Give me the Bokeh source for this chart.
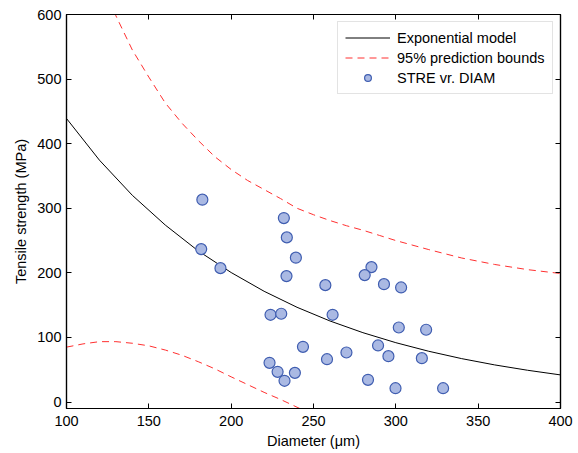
from bokeh.plotting import figure
from bokeh.models import LinearAxis, FixedTicker, CustomJSTickFormatter, Range1d
from bokeh.embed import file_html
from bokeh.resources import INLINE

# ---- data ----
diam = [182.5, 232.0, 233.8, 181.8, 239.3, 193.5, 233.6, 257.2, 223.9, 230.4,
        261.6, 243.6, 258.2, 223.3, 228.2, 238.7, 232.4, 285.2, 281.1, 292.8,
        303.2, 301.8, 318.4, 289.2, 270.0, 295.5, 315.8, 283.1, 299.8, 328.7]
stre = [313.3, 284.8, 254.9, 236.8, 223.5, 207.3, 195.0, 181.0, 135.1, 136.7,
        135.1, 85.5, 66.3, 60.7, 46.8, 45.2, 32.9, 208.9, 196.5, 182.5,
        177.4, 115.4, 111.9, 87.6, 76.7, 71.0, 67.9, 34.4, 21.4, 21.4]

model_x = [100, 120, 140, 160, 180, 200, 220, 240, 260, 280, 300, 320, 340, 360, 380, 400]
model_y = [439, 374.5, 320, 274, 234, 200.5, 171.5, 146.7, 125.5, 107.4, 91.9, 78.6, 67.2, 57.5, 49.2, 42.0]

upper_x = [120, 130, 140, 150, 160, 170, 180, 190, 200, 210, 220, 230, 240, 250, 260,
           270, 280, 290, 300, 320, 340, 360, 380, 400]
upper_y = [656, 598, 545, 503, 463, 432, 405, 380, 360, 343, 329, 315, 300, 290, 281,
           273, 266, 258, 250, 236, 223, 213, 205, 199]

lower_x = [100, 110, 120, 130, 140, 150, 160, 170, 180, 190, 200, 210, 220, 230, 240, 250]
lower_y = [85, 90, 93.5, 93.5, 91, 87, 80.5, 72.5, 62.5, 51.5, 39, 27, 15, 4, -8, -20]

x_ticks = [100, 150, 200, 250, 300, 350, 400]
y_ticks = [0, 100, 200, 300, 400, 500, 600]

FONT = "Liberation Sans"
FS = "14.5px"

p = figure(frame_width=494, frame_height=394, output_backend="svg", toolbar_location=None,
           x_range=Range1d(100, 400), y_range=Range1d(-10, 600),
           min_border_left=66, min_border_right=18, min_border_top=14, min_border_bottom=45)
p.background_fill_color = "white"
p.border_fill_color = "white"
p.outline_line_color = "black"
p.outline_line_width = 1.2
p.grid.visible = False

p.line(model_x, model_y, line_color="black", line_width=1, legend_label="Exponential model")
p.line(upper_x, upper_y, line_color="#ff3030", line_width=1, line_dash="7 5",
       legend_label="95% prediction bounds")
p.line(lower_x, lower_y, line_color="#ff3030", line_width=1, line_dash="7 5")
p.scatter(diam, stre, size=11, marker="circle", fill_color="#aab9e3", line_color="#3f5db0",
          line_width=1.2, legend_label="STRE vr. DIAM")

for ax in (p.xaxis[0], p.yaxis[0]):
    ax.major_tick_in = 5
    ax.major_tick_out = 0
    ax.minor_tick_line_color = None
    ax.axis_line_color = "black"
    ax.axis_line_width = 1.2
    ax.major_tick_line_color = "black"
    ax.major_label_text_font = FONT
    ax.major_label_text_font_size = FS
    ax.major_label_text_color = "black"
    ax.axis_label_text_font = FONT
    ax.axis_label_text_font_size = FS
    ax.axis_label_text_font_style = "normal"
    ax.axis_label_text_color = "black"

p.xaxis[0].ticker = FixedTicker(ticks=x_ticks)
p.yaxis[0].ticker = FixedTicker(ticks=y_ticks)
p.xaxis[0].axis_label = "Diameter (μm)"
p.yaxis[0].axis_label = "Tensile strength (MPa)"
p.xaxis[0].major_label_standoff = 7
p.xaxis[0].axis_label_standoff = 4
p.yaxis[0].major_label_standoff = 5
p.yaxis[0].axis_label_standoff = 5

blank = CustomJSTickFormatter(code="return ''")
top = LinearAxis(ticker=FixedTicker(ticks=x_ticks), formatter=blank)
right = LinearAxis(ticker=FixedTicker(ticks=y_ticks), formatter=blank)
for ax in (top, right):
    ax.major_tick_in = 5
    ax.major_tick_out = 0
    ax.minor_tick_line_color = None
    ax.major_label_standoff = 0
    ax.axis_line_color = "black"
    ax.axis_line_width = 1.2
p.add_layout(top, "above")
p.add_layout(right, "right")

lg = p.legend[0]
lg.location = (271, 314)
lg.label_text_font = FONT
lg.label_text_font_size = FS
lg.label_text_color = "black"
lg.glyph_width = 45
lg.glyph_height = 17
lg.label_height = 17
lg.label_standoff = 7
lg.spacing = 3
lg.padding = 7
lg.margin = 0
lg.border_line_color = "#c8c8c8"
lg.border_line_width = 1
lg.background_fill_color = "white"
lg.background_fill_alpha = 1

open("out.html", "w").write(file_html(p, INLINE))
